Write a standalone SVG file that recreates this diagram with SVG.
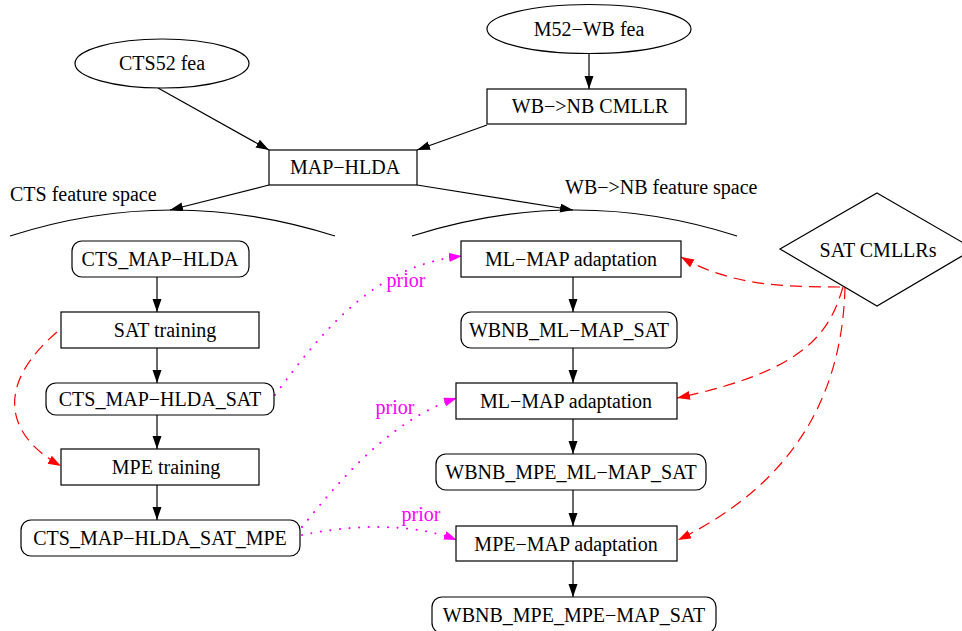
<svg xmlns="http://www.w3.org/2000/svg" width="962" height="631" viewBox="0 0 962 631">
<style>
text{font-family:"Liberation Serif","Times New Roman",serif;font-size:20px;fill:#000;text-anchor:middle}
.n{fill:#fff;stroke:#000;stroke-width:1.2}
.e{fill:none;stroke:#000;stroke-width:1.2}
.r{fill:none;stroke:#f00;stroke-width:1.2;stroke-dasharray:12 7}
.p{fill:none;stroke:#f0f;stroke-width:2;stroke-dasharray:0.1 9.5;stroke-linecap:round}
.pl{fill:#f0f}
.lbl{text-anchor:start}
</style>
<defs>
<marker id="ab" markerUnits="userSpaceOnUse" markerWidth="14" markerHeight="10" refX="13" refY="4.5" orient="auto"><path d="M0,0 L13,4.5 L0,9 z" fill="#000"/></marker>
<marker id="ar" markerUnits="userSpaceOnUse" markerWidth="14" markerHeight="10" refX="13" refY="4.5" orient="auto"><path d="M0,0 L13,4.5 L0,9 z" fill="#f00"/></marker>
<marker id="ap" markerUnits="userSpaceOnUse" markerWidth="14" markerHeight="10" refX="13" refY="4.5" orient="auto"><path d="M0,0 L13,4.5 L0,9 z" fill="#f0f"/></marker>
</defs>
<rect width="962" height="631" fill="#fff"/>
<g id="connectors">
<line class="e" x1="589" y1="54" x2="589" y2="89" marker-end="url(#ab)"/>
<line class="e" x1="158" y1="88" x2="269" y2="150" marker-end="url(#ab)"/>
<line class="e" x1="487" y1="125" x2="417" y2="150" marker-end="url(#ab)"/>
<line class="e" x1="269" y1="185" x2="170" y2="210" marker-end="url(#ab)"/>
<line class="e" x1="417" y1="185" x2="573" y2="210" marker-end="url(#ab)"/>
<path class="e" d="M10,236 Q172,184 335,236"/>
<path class="e" d="M412,236 Q575,184 737,236"/>
<line class="e" x1="157" y1="277" x2="157" y2="312" marker-end="url(#ab)"/>
<line class="e" x1="157" y1="348" x2="157" y2="383" marker-end="url(#ab)"/>
<line class="e" x1="157" y1="415" x2="157" y2="449" marker-end="url(#ab)"/>
<line class="e" x1="157" y1="485" x2="157" y2="520" marker-end="url(#ab)"/>
<line class="e" x1="573" y1="277" x2="573" y2="312" marker-end="url(#ab)"/>
<line class="e" x1="573" y1="348" x2="573" y2="383" marker-end="url(#ab)"/>
<line class="e" x1="573" y1="419" x2="573" y2="454" marker-end="url(#ab)"/>
<line class="e" x1="573" y1="490" x2="573" y2="526" marker-end="url(#ab)"/>
<line class="e" x1="573" y1="561" x2="573" y2="597" marker-end="url(#ab)"/>
<path class="r" d="M57,332 C-5,385 5,435 61,466" marker-end="url(#ar)"/>
<path class="r" d="M840,287 C780,287 730,285 681,257" marker-end="url(#ar)"/>
<path class="r" d="M843,287 C830,330 810,370 677,398" marker-end="url(#ar)"/>
<path class="r" d="M845,287 C842,410 780,490 678,540" marker-end="url(#ar)"/>
<path class="p" d="M275,395 C330,320 380,265 462,256" marker-end="url(#ap)"/>
<path class="p" d="M302,527 C340,480 390,420 457,398" marker-end="url(#ap)"/>
<path class="p" d="M302,535 C350,525 410,522 457,540" marker-end="url(#ap)"/>
<text class="pl" x="406" y="287">prior</text>
<text class="pl" x="395" y="414">prior</text>
<text class="pl" x="421" y="521">prior</text>
</g>
<g id="cts52"><ellipse class="n" cx="162" cy="63.5" rx="87" ry="24.5"/><text x="162" y="70">CTS52 fea</text></g>
<g id="m52wb"><ellipse class="n" cx="589" cy="29" rx="102" ry="24.5"/><text x="589" y="36">M52−WB fea</text></g>
<g id="cmllr"><rect class="n" x="487" y="89" width="199" height="35"/><text x="590" y="113">WB−&gt;NB CMLLR</text></g>
<g id="maphlda"><rect class="n" x="269" y="150" width="148" height="35"/><text x="345" y="174">MAP−HLDA</text></g>
<g id="ctsspace"><text class="lbl" x="10" y="201">CTS feature space</text></g>
<g id="wbspace"><text class="lbl" x="565" y="194">WB−&gt;NB feature space</text></g>
<g id="satcmllrs"><polygon class="n" points="877,193 974,249 877,306 780,249"/><text x="878" y="257">SAT CMLLRs</text></g>
<g id="cts_maphlda"><rect class="n" x="72" y="241" width="177" height="36" rx="10"/><text x="160" y="266">CTS_MAP−HLDA</text></g>
<g id="sattrain"><rect class="n" x="61" y="312" width="198" height="36"/><text x="165" y="337">SAT training</text></g>
<g id="cts_sat"><rect class="n" x="46" y="383" width="228" height="32" rx="10"/><text x="160" y="406">CTS_MAP−HLDA_SAT</text></g>
<g id="mpetrain"><rect class="n" x="61" y="449" width="198" height="36"/><text x="166" y="474">MPE training</text></g>
<g id="cts_sat_mpe"><rect class="n" x="21" y="520" width="279" height="36" rx="10"/><text x="160" y="545">CTS_MAP−HLDA_SAT_MPE</text></g>
<g id="mlmap1"><rect class="n" x="461" y="241" width="220" height="36"/><text x="571" y="266">ML−MAP adaptation</text></g>
<g id="wbnb_mlmap"><rect class="n" x="461" y="312" width="216" height="36" rx="10"/><text x="569" y="337">WBNB_ML−MAP_SAT</text></g>
<g id="mlmap2"><rect class="n" x="456" y="383" width="221" height="36"/><text x="566" y="408">ML−MAP adaptation</text></g>
<g id="wbnb_mpe_mlmap"><rect class="n" x="436" y="454" width="270" height="36" rx="10"/><text x="571" y="479">WBNB_MPE_ML−MAP_SAT</text></g>
<g id="mpemap"><rect class="n" x="456" y="526" width="221" height="35"/><text x="566" y="551">MPE−MAP adaptation</text></g>
<g id="wbnb_mpe_mpemap"><rect class="n" x="432" y="597" width="284" height="36" rx="10"/><text x="574" y="622">WBNB_MPE_MPE−MAP_SAT</text></g>
</svg>
